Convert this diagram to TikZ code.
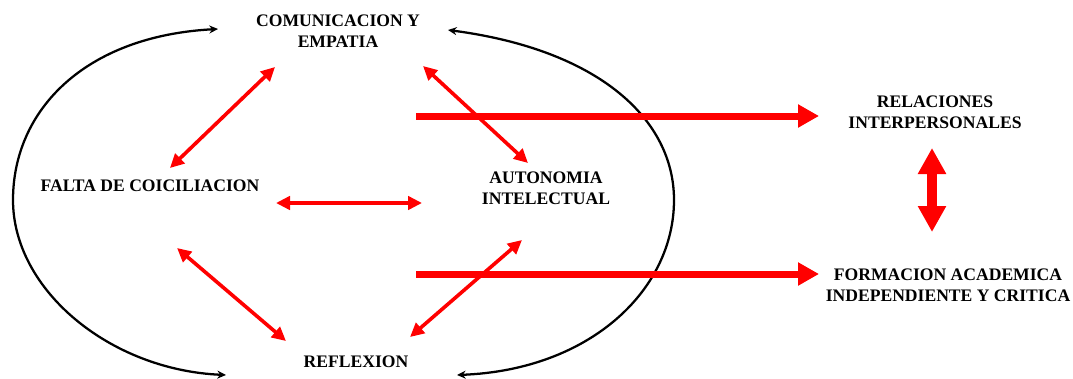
\documentclass[tikz,border=0pt]{standalone}
\usepackage{fontspec}
\setmainfont{Liberation Serif}
\usetikzlibrary{positioning,arrows.meta}

\begin{document}
\begin{tikzpicture}[
  x=0.75pt, y=-0.75pt,
  concepto/.style={
    align=center,
    inner sep=0pt,
    font=\fontsize{13.2}{16.1}\selectfont\bfseries
  },
  relacion/.style={
    {Triangle[length=10.5pt,width=10pt]}-{Triangle[length=10.5pt,width=10pt]},
    line width=2.7pt,
    red
  },
  salida/.style={
    -{Triangle[length=15.75pt,width=16.5pt]},
    line width=5.25pt,
    red
  },
  doble/.style={
    {Triangle[length=19.5pt,width=20pt]}-{Triangle[length=19.5pt,width=20pt]},
    line width=7pt,
    red
  },
  ciclo/.style={
    {Stealth[length=6.5pt,width=6pt]}-{Stealth[length=6.5pt,width=6pt]},
    line width=1.7pt
  }
]
\useasboundingbox (0,0) rectangle (1073,378);

% --------------------
% Conceptos
% --------------------
\node[concepto] (com) at (338,31) {COMUNICACION Y\\EMPATIA};
\node[concepto] (falta) at (150,186) {FALTA DE COICILIACION};
\node[concepto] (auto) at (546,188) {AUTONOMIA\\INTELECTUAL};
\node[concepto] (refl) at (356,362) {REFLEXION};

\node[concepto] (rel) at (935,112) {RELACIONES\\INTERPERSONALES};
\node[concepto] (form) at (948,285) {FORMACION ACADEMICA\\INDEPENDIENTE Y CRITICA};

\coordinate (salidaA) at (416,116);
\coordinate (salidaB) at (416,274);

% --------------------
% Ciclo
% --------------------
\draw[ciclo] ([shift={(-120,-2)}]com.center)
  .. controls (85,36) and (13,110) .. (13,200)
  .. controls (13,290) and (110,370) .. ([shift={(-130,13)}]refl.center);
\draw[ciclo] ([shift={(110,-1)}]com.center)
  .. controls (600,50) and (674,120) .. (674,200)
  .. controls (674,290) and (590,370) .. ([shift={(101,13)}]refl.center);

% --------------------
% Relaciones internas
% --------------------
\draw[relacion] ([shift={(-63,36)}]com.center) -- ([shift={(20,-18)}]falta.center);
\draw[relacion] ([shift={(85,35)}]com.center) -- ([shift={(-18,-25)}]auto.center);
\draw[relacion] ([shift={(126,17)}]falta.center) -- ([shift={(-124,15)}]auto.center);
\draw[relacion] ([shift={(27,62)}]falta.center) -- ([shift={(-70,-21)}]refl.center);
\draw[relacion] ([shift={(-24,52)}]auto.center) -- ([shift={(54,-25)}]refl.center);

% --------------------
% Resultados
% --------------------
\draw[salida] (salidaA) -- ([shift={(-116,4)}]rel.center);
\draw[salida] (salidaB) -- ([shift={(-129,-11)}]form.center);
\draw[doble] ([shift={(-3,36)}]rel.center) -- ([shift={(-16,-53)}]form.center);

\end{tikzpicture}
\end{document}
